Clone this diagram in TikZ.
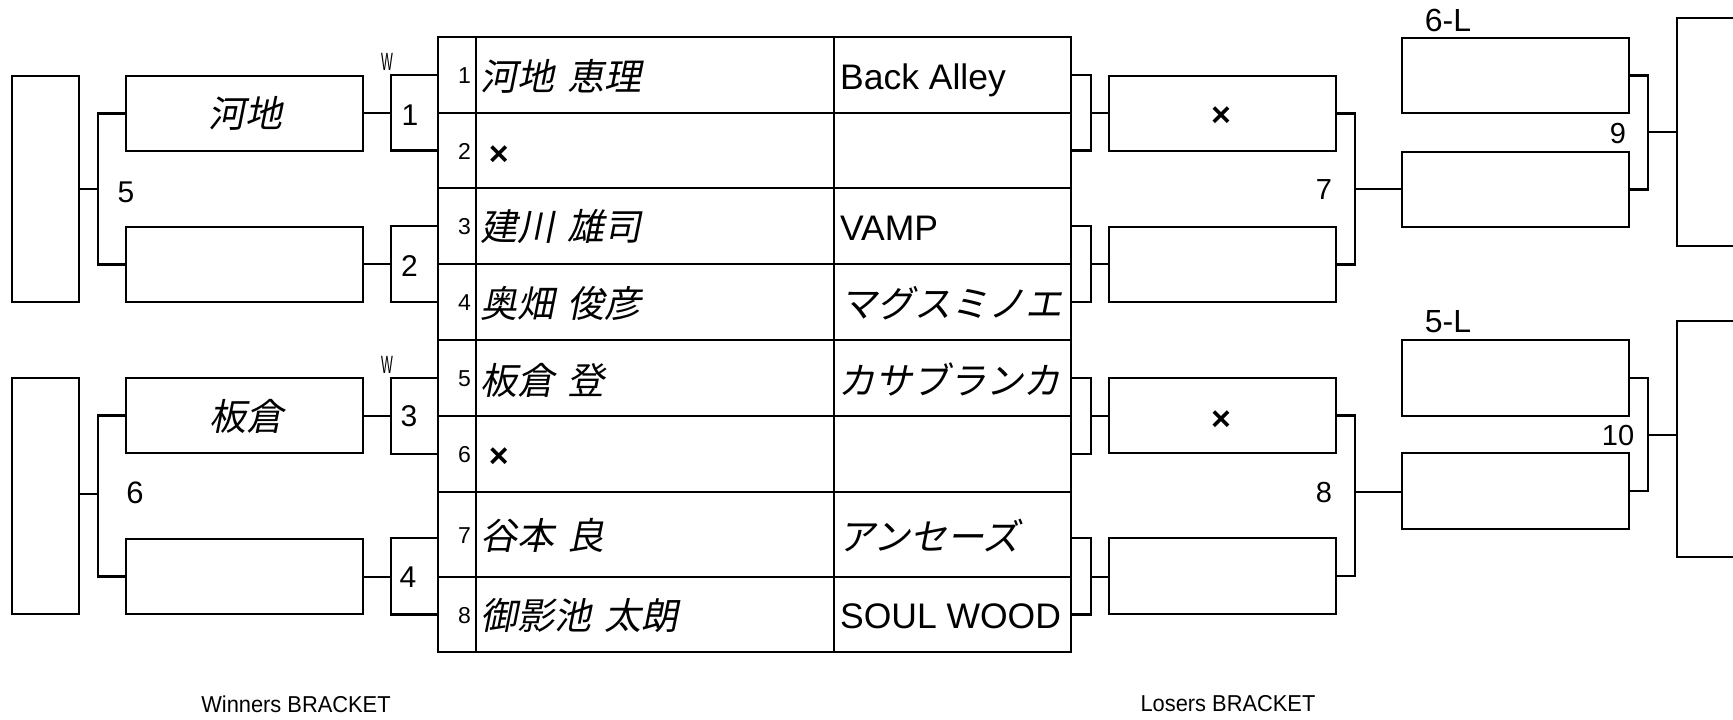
\documentclass[tikz,border=0pt]{standalone}
\usepackage{fontspec}
\usetikzlibrary{calc}
\setmainfont{Liberation Sans}
\newfontfamily\jp[FakeSlant=0.2]{Noto Sans CJK JP}
\newfontfamily\nar[FakeStretch=0.95]{Liberation Sans}
\newfontfamily\wnar[FakeStretch=0.5]{Liberation Sans}
\newcommand\fsz[1]{\fontsize{#1}{#1}\selectfont}
\newcommand\gap{\hspace{0.36em}}
\begin{document}
\begin{tikzpicture}[x=1pt,y=-1pt,
  lw/.style={line width=2.2pt},
  slotbox/.style={draw, line width=2.2pt, inner sep=0pt, minimum width=237pt, minimum height=75pt},
  lslot/.style={slotbox, minimum width=227pt},
  tallbox/.style={draw, line width=2.2pt, inner sep=0pt, minimum width=67pt},
  cell/.style={draw, line width=2.2pt, inner sep=0pt},
  lbl/.style={inner sep=0pt, font=\fsz{30}},
  small/.style={inner sep=0pt, font=\fsz{23}},
  jpt/.style={inner sep=0pt, font=\jp\fsz{37}},
  latt/.style={inner sep=0pt, font=\fsz{35.5}},
  xmark/.style={inner sep=0pt, font=\bfseries\fsz{34}},
  wl/.style={inner sep=0pt, font=\wnar\fsz{25}},
  foot/.style={inner sep=0pt, font=\nar\fsz{23}}
]
\useasboundingbox (0,0) rectangle (1733,720);
\clip (0,0) rectangle (1733,720);

% ---- table ----
\foreach \i/\c/\h in {1/75/76, 2/150.5/75, 3/226/76, 4/302/76, 5/378/76, 6/454/76, 7/534.5/85, 8/614.5/75}{
  \node[cell, minimum width=38pt, minimum height=\h pt] (n\i) at (457,\c) {};
  \node[cell, minimum width=358pt, minimum height=\h pt] (m\i) at (655,\c) {};
  \node[cell, minimum width=237pt, minimum height=\h pt] (t\i) at (952.5,\c) {};
  \node[small, anchor=east] (nl\i) at ($(n\i.east)+(-6,1)$) {\i};
}
% names
\node[jpt, anchor=west] (name1) at ($(m1.west)+(5,1)$) {河地\gap 恵理};
\node[xmark] (name2) at ($(m2.west)+(24,5)$) {×};
\node[jpt, anchor=west] (name3) at ($(m3.west)+(5,1)$) {建川\gap 雄司};
\node[jpt, anchor=west] (name4) at ($(m4.west)+(5,1)$) {奥畑\gap 俊彦};
\node[jpt, anchor=west] (name5) at ($(m5.west)+(5,2)$) {板倉\gap 登};
\node[xmark] (name6) at ($(m6.west)+(24,4)$) {×};
\node[jpt, anchor=west] (name7) at ($(m7.west)+(5,1)$) {谷本\gap 良};
\node[jpt, anchor=west] (name8) at ($(m8.west)+(5,1)$) {御影池\gap 太朗};
% teams
\node[latt, anchor=base west] (team1) at ($(t1.west)+(7,14)$) {Back Alley};
\node[latt, anchor=base west] (team3) at ($(t3.west)+(7,14)$) {VAMP};
\node[jpt, anchor=west] (team4) at ($(t4.west)+(7,1)$) {マグスミノエ};
\node[jpt, anchor=west] (team5) at ($(t5.west)+(5,1)$) {カサブランカ};
\node[jpt, anchor=west] (team7) at ($(t7.west)+(5,1)$) {アンセーズ};
\node[latt, anchor=base west] (team8) at ($(t8.west)+(7,14)$) {SOUL WOOD};

% ---- winners bracket ----
\node[tallbox, minimum height=226pt] (WF1) at (45.5,189) {};
\node[tallbox, minimum height=236pt] (WF2) at (45.5,496) {};
\node[slotbox] (W5a) at (244.5,113.5) {};
\node[slotbox] (W5b) at (244.5,264.5) {};
\node[slotbox] (W6a) at (244.5,415.5) {};
\node[slotbox] (W6b) at (244.5,576.5) {};
\node[jpt] (W5aT) at (245,113.5) {河地};
\node[jpt] (W6aT) at (246,416.5) {板倉};

\coordinate (v5) at (98,189);
\coordinate (v6) at (98,494);
\draw[lw] (W5a.west) -| (v5) |- (W5b.west);
\draw[lw] (W6a.west) -| (v6) |- (W6b.west);
\draw[lw] (WF1.east) -- (v5);
\draw[lw] (WF2.east |- v6) -- (v6);

\coordinate (s1) at (391,113);
\coordinate (s2) at (391,264);
\coordinate (s3) at (391,416);
\coordinate (s4) at (391,577);
\coordinate (s4t) at (438,538);
\draw[lw] (n1.west) -| (s1) |- (n2.west);
\draw[lw] (n3.west) -| (s2) |- (n4.west);
\draw[lw] (n5.west) -| (s3) |- (n6.west);
\draw[lw] (s4t) -| (s4) |- (n8.west);
\draw[lw] (s1 -| W5a.east) -- (s1);
\draw[lw] (s2 -| W5b.east) -- (s2);
\draw[lw] (s3 -| W6a.east) -- (s3);
\draw[lw] (s4 -| W6b.east) -- (s4);

\node[lbl] (k1) at (410,115) {1};
\node[lbl] (k2) at (409.5,266) {2};
\node[lbl] (k3) at (409,416) {3};
\node[lbl] (k4) at (408,577) {4};
\node[wl] (w1) at (387,62) {W};
\node[wl] (w2) at (387,365) {W};
\node[lbl] (k5) at (126,192) {5};
\node[lbl, font=\fsz{31}] (k6) at (135,493) {6};

% ---- losers bracket ----
\node[lslot] (L7a) at (1222.5,113.5) {};
\node[lslot] (L7b) at (1222.5,264.5) {};
\node[lslot] (L8a) at (1222.5,415.5) {};
\node[lslot, minimum height=76pt] (L8b) at (1222.5,576) {};
\node[lslot] (L9a) at (1515.5,75.5) {};
\node[lslot] (L9b) at (1515.5,189.5) {};
\node[lslot, minimum height=76pt] (L10a) at (1515.5,378) {};
\node[lslot, minimum height=76pt] (L10b) at (1515.5,491) {};
\node[tallbox, minimum width=113pt, minimum height=228pt] (LF1) at (1733.5,132) {};
\node[tallbox, minimum width=113pt, minimum height=236pt] (LF2) at (1733.5,439) {};
\node[xmark] (x7) at (1221,117) {×};
\node[xmark] (x8) at (1221,420.5) {×};

\coordinate (r1) at (1091,113);
\coordinate (r2) at (1091,264);
\coordinate (r3) at (1091,416);
\coordinate (r4) at (1091,577);
\coordinate (r4t) at (1071,538);
\draw[lw] (t1.east) -| (r1) |- (t2.east);
\draw[lw] (t3.east) -| (r2) |- (t4.east);
\draw[lw] (t5.east) -| (r3) |- (t6.east);
\draw[lw] (r4t) -| (r4) |- (t8.east);
\draw[lw] (r1) -- (r1 -| L7a.west);
\draw[lw] (r2) -- (r2 -| L7b.west);
\draw[lw] (r3) -- (r3 -| L8a.west);
\draw[lw] (r4) -- (r4 -| L8b.west);

\coordinate (v7) at (1355,189);
\coordinate (v8) at (1355,492);
\coordinate (v9) at (1648,132);
\coordinate (v10) at (1648,435);
\draw[lw] (L7a.east) -| (v7) |- (L7b.east);
\draw[lw] (L8a.east) -| (v8) |- (L8b.east);
\draw[lw] (v7) -- (v7 -| L9b.west);
\draw[lw] (v8) -- (v8 -| L10b.west);
\draw[lw] (L9a.east) -| (v9) |- (L9b.east);
\draw[lw] (L10a.east) -| (v10) |- (L10b.east);
\draw[lw] (v9) -- (v9 -| LF1.west);
\draw[lw] (v10) -- (v10 -| LF2.west);

\node[lbl, font=\fsz{29}] (k7) at (1324,190) {7};
\node[lbl, font=\fsz{29}] (k8) at (1324,493) {8};
\node[lbl, font=\fsz{29}] (k9) at (1618,134) {9};
\node[lbl, font=\fsz{29}] (k10) at (1618,436) {10};
\node[lbl, font=\fsz{32}] (k6L) at (1448,20) {6-L};
\node[lbl, font=\fsz{32}] (k5L) at (1448,322) {5-L};

\node[foot] (wb) at (296,704) {Winners BRACKET};
\node[foot] (lb) at (1228,704) {Losers BRACKET};
\end{tikzpicture}
\end{document}
